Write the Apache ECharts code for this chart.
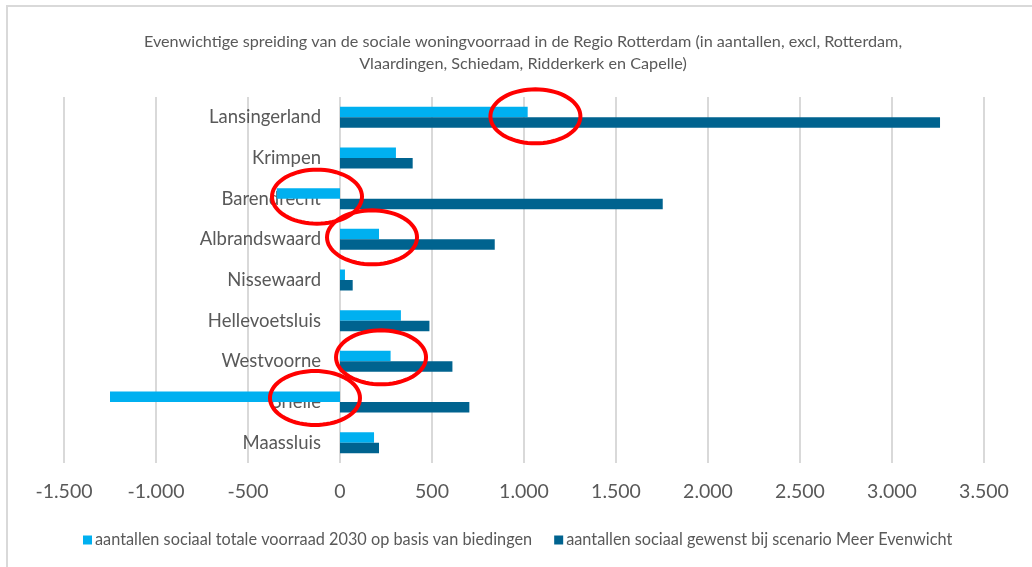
<!DOCTYPE html>
<html>
<head>
<meta charset="utf-8">
<script src="https://cdn.jsdelivr.net/npm/echarts@6/dist/echarts.min.js"></script>
<style>
  html, body { margin: 0; padding: 0; background: #ffffff; }
  #chart { width: 1032px; height: 567px; }
</style>
</head>
<body>
<div id="chart"></div>
<script>
// Municipalities, top to bottom
const categories = ['Lansingerland', 'Krimpen', 'Barendrecht', 'Albrandswaard', 'Nissewaard',
  'Hellevoetsluis', 'Westvoorne', 'Brielle', 'Maassluis'];

// Social housing stock 2030 based on offers
const voorraad2030 = [1020, 304, -344, 212, 27, 331, 275, -1250, 185];
// Desired social housing under the "Meer Evenwicht" scenario
const gewenst = [3261, 395, 1754, 841, 69, 486, 611, 703, 212];

const seriesNames = [
  'aantallen sociaal totale voorraad 2030 op basis van biedingen',
  'aantallen sociaal gewenst bij scenario Meer Evenwicht'
];

const titleText = 'Evenwichtige spreiding van de sociale woningvoorraad in de Regio Rotterdam (in aantallen, excl, Rotterdam,\nVlaardingen, Schiedam, Ridderkerk en Capelle)';

// Highlight rings, placed in data coordinates (value, category)
const highlights = [
  { value: 1062, cat: 'Lansingerland', dy: -1 },
  { value: -125, cat: 'Barendrecht', dy: -2 },
  { value: 174, cat: 'Albrandswaard', dy: -2 },
  { value: 223, cat: 'Westvoorne', dy: -4 },
  { value: -136, cat: 'Brielle', dy: -4 }
];

const FONT = 'Lato, "Open Sans", sans-serif';
const TEXT = '#595959';
const GRID = '#D9D9D9';
const GRID_LEFT = 64;

const fmt = v => {
  const s = Math.abs(v).toString().replace(/\B(?=(\d{3})+(?!\d))/g, '.');
  return (v < 0 ? '-' : '') + s;
};

const chart = echarts.init(document.getElementById('chart'), null, { renderer: 'canvas' });

const option = {
  backgroundColor: '#ffffff',
  animation: false,
  textStyle: { fontFamily: FONT },
  title: {
    text: titleText,
    left: 518,
    textAlign: 'center',
    top: 26,
    textStyle: { fontFamily: FONT, fontSize: 16.2, fontWeight: 'normal', color: TEXT, lineHeight: 22 }
  },
  legend: {
    bottom: 14,
    left: 78,
    itemWidth: 9,
    itemHeight: 9,
    itemGap: 22,
    icon: 'rect',
    textStyle: { fontFamily: FONT, fontSize: 16.3, color: TEXT, padding: [0, 0, 0, -2] },
    data: seriesNames
  },
  grid: { left: GRID_LEFT, right: 48, top: 97, bottom: 104, containLabel: false, outerBoundsMode: 'none' },
  xAxis: {
    type: 'value',
    min: -1500,
    max: 3500,
    interval: 500,
    axisLine: { show: false },
    axisTick: { show: false },
    splitLine: { show: true, lineStyle: { color: GRID, width: 2 } },
    axisLabel: { formatter: fmt, fontFamily: FONT, fontSize: 19.5, color: TEXT, margin: 19 }
  },
  yAxis: {
    type: 'category',
    inverse: true,
    data: categories,
    axisLine: { show: false, onZero: false },
    axisTick: { show: false },
    axisLabel: { fontFamily: FONT, fontSize: 18.5, color: TEXT, margin: 19 }
  },
  series: [
    {
      name: seriesNames[0],
      type: 'bar',
      data: voorraad2030,
      barWidth: 10.5,
      barGap: '0%',
      itemStyle: { color: '#00B0F0' }
    },
    {
      name: seriesNames[1],
      type: 'bar',
      data: gewenst,
      barWidth: 10.5,
      barGap: '0%',
      itemStyle: { color: '#00638F' }
    }
  ]
};

chart.setOption(option);

// Move the category axis (with its labels) onto the zero line of the value axis
const zeroX = chart.convertToPixel({ xAxisIndex: 0 }, 0);
chart.setOption({ yAxis: { offset: -(zeroX - GRID_LEFT) } });

// Ellipse outline points around a pixel center
function ellipsePoints(cx, cy, rx, ry) {
  const pts = [];
  const n = 72;
  for (let i = 0; i < n; i++) {
    const a = (i / n) * Math.PI * 2;
    pts.push([cx + rx * Math.cos(a), cy + ry * Math.sin(a)]);
  }
  return pts;
}

const graphics = [
  {
    type: 'rect',
    shape: { x: 7, y: 6, width: 1040, height: 580 },
    style: { fill: 'none', stroke: GRID, lineWidth: 2 },
    silent: true,
    z: 0
  }
];

highlights.forEach(h => {
  const p = chart.convertToPixel({ gridIndex: 0 }, [h.value, h.cat]);
  graphics.push({
    type: 'polygon',
    shape: { points: ellipsePoints(p[0], p[1] + h.dy, 45, 27) },
    style: { fill: 'none', stroke: '#FF0000', lineWidth: 4 },
    silent: true,
    z: 100
  });
});

chart.setOption({ graphic: graphics });
</script>
</body>
</html>
